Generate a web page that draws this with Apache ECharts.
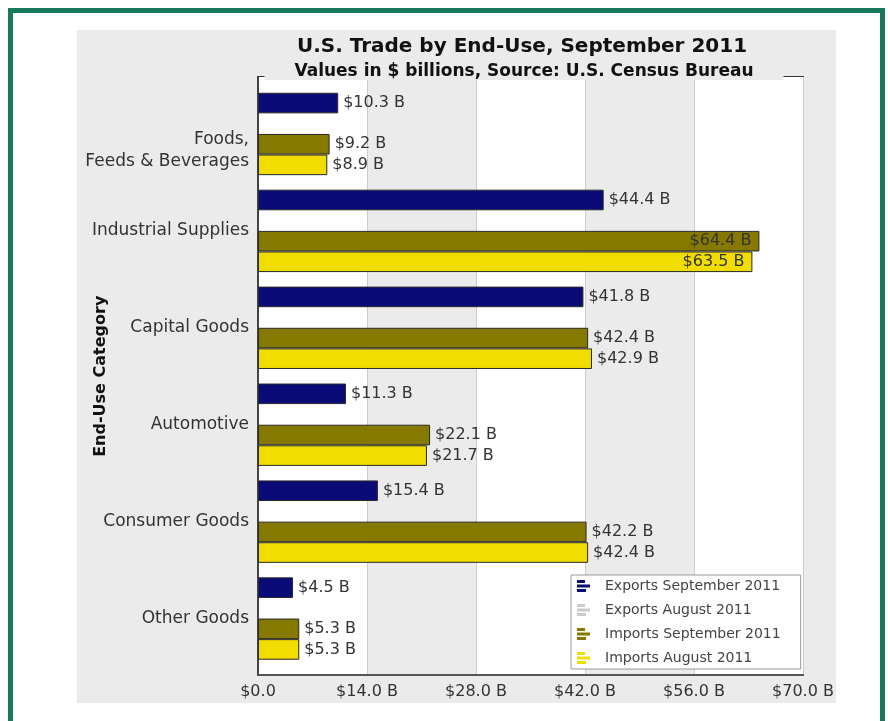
<!DOCTYPE html>
<html>
<head>
<meta charset="utf-8">
<script src="https://cdn.jsdelivr.net/npm/echarts@6/dist/echarts.min.js"></script>
<style>
html,body{margin:0;padding:0;background:#ffffff;}
#chart{width:888px;height:721px;}
</style>
</head>
<body>
<div id="chart"></div>
<script>
const categories = ['Foods,\nFeeds & Beverages', 'Industrial Supplies', 'Capital Goods', 'Automotive', 'Consumer Goods', 'Other Goods'];
const seriesNames = ['Exports September 2011', 'Exports August 2011', 'Imports September 2011', 'Imports August 2011'];
const exportsSep = [10.3, 44.4, 41.8, 11.3, 15.4, 4.5];
const exportsAug = [null, null, null, null, null, null];
const importsSep = [9.2, 64.4, 42.4, 22.1, 42.2, 5.3];
const importsAug = [8.9, 63.5, 42.9, 21.7, 42.4, 5.3];
const xTicks = [0, 14, 28, 42, 56, 70];

const colors = ['#0b0b78', '#cccccc', '#857900', '#f1dd00'];
const allData = [exportsSep, exportsAug, importsSep, importsAug];

const fmt = v => '$' + Number(v).toFixed(1) + ' B';
const icon = 'path://M0,0H8V3H0Z M0,4.5H13V7.5H0Z M0,9H9V12H0Z';
const FONT = 'DejaVu Sans';

const chart = echarts.init(document.getElementById('chart'), null, {renderer: 'canvas'});

const series = allData.map((arr, i) => ({
  name: seriesNames[i],
  type: 'bar',
  xAxisIndex: 1, yAxisIndex: 1,
  data: arr.map(v => (v !== null && v > 60)
    ? {value: v, label: {position: 'insideRight', distance: 8}}
    : v),
  barGap: '0%',
  barCategoryGap: '15%',
  itemStyle: {color: colors[i], borderColor: '#2a2a2a', borderWidth: 1},
  label: {
    show: true, position: 'right', distance: 5,
    formatter: p => fmt(p.value),
    color: '#333', fontFamily: FONT, fontSize: 16
  }
}));

chart.setOption({
  animation: false,
  backgroundColor: '#ffffff',
  graphic: [
    {type: 'rect', z: -10, silent: true, shape: {x: 10.5, y: 10.5, width: 872, height: 730},
     style: {fill: '#ffffff', stroke: '#177a5d', lineWidth: 5}},
    {type: 'rect', z: -9, silent: true, shape: {x: 77, y: 30, width: 759, height: 673},
     style: {fill: '#ebebeb'}}
  ],
  title: [
    {text: 'U.S. Trade by End-Use, September 2011', left: 517, top: 32, textAlign: 'center', padding: 5,
     textStyle: {fontFamily: FONT, fontWeight: 'bold', fontSize: 20, color: '#111'}},
    {text: 'Values in $ billions, Source: U.S. Census Bureau', left: 494, top: 63, textAlign: 'center',
     backgroundColor: '#ebebeb', padding: [1, 30, 0, 30],
     textStyle: {fontFamily: FONT, fontWeight: 'bold', fontSize: 17, lineHeight: 15, color: '#111'}}
  ],
  legend: {
    orient: 'vertical', left: 571, top: 575,
    backgroundColor: '#ffffff', borderColor: '#9a9a9a', borderWidth: 1,
    padding: [4, 20, 4, 6], itemGap: 10, itemWidth: 13, itemHeight: 14,
    icon: icon,
    textStyle: {fontFamily: FONT, fontSize: 14, color: '#444', padding: [0, 0, 0, 10]},
    data: seriesNames.map((n, i) => ({name: n, itemStyle: {color: colors[i], borderWidth: 0}}))
  },
  grid: [
    {left: 258, right: 85, top: 77, bottom: 46, show: true, borderColor: '#333', borderWidth: 2, backgroundColor: 'transparent'},
    {left: 258, right: 85, top: 85.5, bottom: 54}
  ],
  xAxis: [
    {
      type: 'value', gridIndex: 0, min: xTicks[0], max: xTicks[xTicks.length - 1], interval: xTicks[1] - xTicks[0],
      axisLine: {show: true, lineStyle: {color: '#555', width: 2}},
      axisTick: {show: false},
      splitLine: {show: true, lineStyle: {color: '#cccccc', width: 1}},
      splitArea: {show: true, areaStyle: {color: ['#ffffff', '#ebebeb']}},
      axisLabel: {
        formatter: v => v === 0 ? '$0.0' : fmt(v),
        fontFamily: FONT, fontSize: 16, color: '#333', margin: 9
      }
    },
    {
      type: 'value', gridIndex: 1, min: xTicks[0], max: xTicks[xTicks.length - 1], interval: xTicks[1] - xTicks[0],
      show: false
    }
  ],
  yAxis: [
    {
      type: 'value', gridIndex: 0,
      axisLine: {show: true, lineStyle: {color: '#444', width: 2}},
      axisTick: {show: false}, axisLabel: {show: false}, splitLine: {show: false}
    },
    {
      type: 'category', gridIndex: 1, inverse: true,
      data: categories,
      name: 'End-Use Category', nameLocation: 'middle', nameRotate: 90, nameGap: 149,
      nameMoveOverlap: false,
      nameTextStyle: {fontFamily: FONT, fontWeight: 'bold', fontSize: 16, color: '#111'},
      axisLine: {show: false},
      axisTick: {show: false},
      axisLabel: {
        fontFamily: FONT, fontSize: 17, color: '#333', margin: 9, lineHeight: 22,
        formatter: v => v.indexOf('\n') >= 0
          ? '{sp| }\n' + v.split('\n').map(s => '{t|' + s + '}').join('\n')
          : v,
        rich: {
          sp: {fontSize: 2, lineHeight: 34},
          t: {fontFamily: FONT, fontSize: 17, color: '#333', lineHeight: 22}
        }
      }
    }
  ],
  series: series
});
</script>
</body>
</html>
